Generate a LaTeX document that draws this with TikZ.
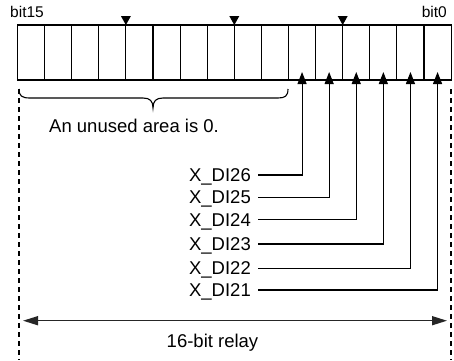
\documentclass[tikz,border=0pt]{standalone}
\usepackage{fontspec}
\setmainfont{Liberation Sans}
\usetikzlibrary{arrows.meta}
\begin{document}
\begin{tikzpicture}[x=1pt,y=-1pt,
  cell/.style={draw,line width=1.1pt,minimum width=27.1pt,minimum height=55pt,inner sep=0pt,outer sep=0pt},
  lab/.style={font=\fontsize{18.5}{20}\selectfont,inner sep=0pt,text height=13.3pt,text depth=0pt},
  bitlab/.style={font=\fontsize{15.5}{17}\selectfont,inner sep=0pt,text height=11.1pt,text depth=0pt},
  conn/.style={line width=1.1pt,-{Triangle[length=12pt,width=9pt]}},
  dashline/.style={line width=1.2pt,dash pattern=on 5pt off 4pt},
  span/.style={line width=1.5pt,draw=black!85,{Triangle[length=15pt,width=9pt]}-{Triangle[length=15pt,width=9pt]}}]
\useasboundingbox (0,0) rectangle (454,360);
% register cells
\foreach \k in {0,...,15}{
  \pgfmathtruncatemacro{\b}{15-\k}
  \node[cell] (c\b) at ({17.5+(\k+0.5)*27.1},52.5) {};
}
% markers
\foreach \c in {c11,c7,c3}{
  \fill (\c.north west) -- ++(-5,-9) -- ++(10,0) -- cycle;
}
\node[bitlab,anchor=west] (b15) at (10,12) {bit15};
\node[bitlab,anchor=east] (b0) at (447,12) {bit0};
% brace
\draw[line width=1.1pt] (19,89) .. controls (19,96) and (22,98) .. (30,98) -- (143,98)
  .. controls (150,98) and (153,101) .. (153,108)
  .. controls (153,101) and (156,98) .. (163,98) -- (278,98)
  .. controls (285,98) and (288,96) .. (288,89);
\node[lab,anchor=west] (unused) at (49,126) {An unused area is 0.};
% labels
\node[lab,anchor=east] (L26) at (251,175) {X\_DI26};
\node[lab,anchor=east] (L25) at (251,197.3) {X\_DI25};
\node[lab,anchor=east] (L24) at (251,219.5) {X\_DI24};
\node[lab,anchor=east] (L23) at (251,244) {X\_DI23};
\node[lab,anchor=east] (L22) at (251,268.3) {X\_DI22};
\node[lab,anchor=east] (L21) at (251,290) {X\_DI21};
\foreach \l/\c in {L26/c5,L25/c4,L24/c3,L23/c2,L22/c1,L21/c0}{
  \draw[conn] ([xshift=7pt]\l.east) -| ([yshift=8pt]\c.south);
}
% dashed extent lines
\coordinate (dlt) at (19,89);
\coordinate (dlb) at (19,360);
\coordinate (drt) at (451,89);
\coordinate (drb) at (451,360);
\draw[dashline] (dlt) -- (dlb);
\draw[dashline] (drt) -- (drb);
\coordinate (al) at (23,320.7);
\coordinate (ar) at (447,320.7);
\draw[span] (al) -- (ar);
\node[lab] (relay) at (212.5,341) {16-bit relay};
\end{tikzpicture}
\end{document}
